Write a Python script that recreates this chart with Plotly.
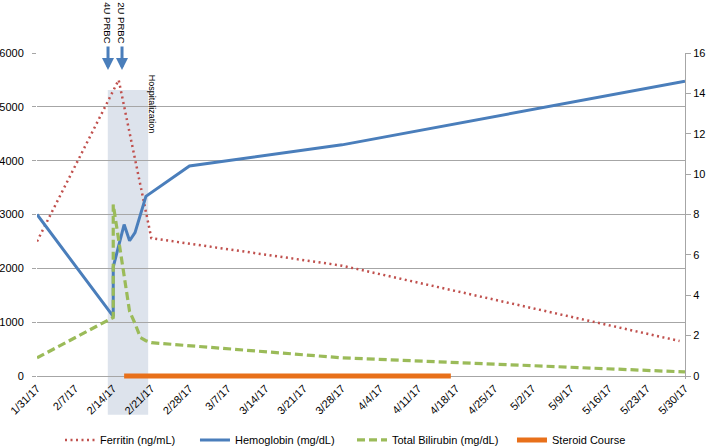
import plotly.graph_objects as go

# ---- data ----
ferritin_dates = ["2017-01-31", "2017-02-15", "2017-02-21", "2017-03-28", "2017-05-29"]
ferritin_vals = [2500, 5500, 2560, 2050, 650]

hgb_dates = ["2017-01-31", "2017-02-14", "2017-02-14", "2017-02-16", "2017-02-17",
             "2017-02-18", "2017-02-20", "2017-02-28", "2017-03-28", "2017-05-30"]
hgb_vals = [8.0, 2.95, 5.4, 7.5, 6.7, 7.1, 8.9, 10.4, 11.45, 14.6]

bili_dates = ["2017-01-31", "2017-02-14", "2017-02-14", "2017-02-17", "2017-02-18",
              "2017-02-19", "2017-02-20", "2017-02-21", "2017-03-28", "2017-05-30"]
bili_vals = [0.9, 2.9, 8.5, 3.2, 2.6, 1.9, 1.75, 1.65, 0.9, 0.2]

steroid_dates = ["2017-02-16", "2017-04-17"]
steroid_vals = [0, 0]

hosp_start = "2017-02-13"
hosp_end = "2017-02-20 10:00"

left_ticks = [0, 1000, 2000, 3000, 4000, 5000, 6000]
right_ticks = [0, 2, 4, 6, 8, 10, 12, 14, 16]

FONT = "Liberation Sans"
GRID = "#a6a6a6"

fig = go.Figure()
fig.add_trace(go.Scatter(x=ferritin_dates, y=ferritin_vals, mode="lines",
                         name="Ferritin (ng/mL)", yaxis="y", legend="legend",
                         line=dict(color="#C0504D", width=2.5, dash="2px,3.5px")))
fig.add_trace(go.Scatter(x=hgb_dates, y=hgb_vals, mode="lines",
                         name="Hemoglobin (mg/dL)", yaxis="y2", legend="legend2",
                         line=dict(color="#4A7EBB", width=3)))
fig.add_trace(go.Scatter(x=bili_dates, y=bili_vals, mode="lines",
                         name="Total Bilirubin (mg/dL)", yaxis="y2", legend="legend3",
                         line=dict(color="#9BBB59", width=3.2, dash="8px,4px")))
fig.add_trace(go.Scatter(x=steroid_dates, y=steroid_vals, mode="lines",
                         name="Steroid Course", yaxis="y2", legend="legend4",
                         line=dict(color="#E8701A", width=5)))

# hospitalization shading
fig.add_shape(type="rect", xref="x", yref="paper", x0=hosp_start, x1=hosp_end,
              y0=-0.110, y1=0.8865, fillcolor="rgb(221,227,236)", line=dict(width=0),
              layer="below")

fig.add_annotation(text="Hospitalization", xref="paper", yref="paper",
                   x=0.178, y=0.8436, textangle=90, showarrow=False,
                   xanchor="center", yanchor="middle",
                   font=dict(family=FONT, size=9, color="black"))

for xp, label in [(0.1096, "4U PRBC"), (0.1312, "2U PRBC")]:
    fig.add_annotation(text=label, xref="paper", yref="paper", x=xp, y=1.094,
                       textangle=90, showarrow=False, xanchor="center", yanchor="middle",
                       font=dict(family=FONT, size=9.5, color="black"))
    fig.add_annotation(text="", xref="paper", yref="paper", x=xp, y=0.948,
                       ax=0, ay=-25, showarrow=True, arrowhead=2, arrowsize=0.8,
                       arrowwidth=3, arrowcolor="#4A7EBB", standoff=0)


def leg(xp):
    return dict(orientation="h", x=xp, xanchor="left", y=-0.187, yanchor="middle",
                font=dict(family=FONT, size=11, color="black"),
                bgcolor="rgba(0,0,0,0)")


fig.update_layout(
    width=709, height=448,
    margin=dict(l=37, r=24, t=53, b=69, autoexpand=False),
    paper_bgcolor="white", plot_bgcolor="white",
    font=dict(family=FONT, size=11, color="black"),
    showlegend=True,
    legend=leg(0.0355), legend2=leg(0.2438), legend3=leg(0.4861), legend4=leg(0.733),
    xaxis=dict(type="date", range=["2017-01-31", "2017-05-30"], automargin=False,
               tick0="2017-01-31", dtick=7 * 86400000, tickformat="%-m/%-d/%y",
               tickangle=-45, showgrid=False, zeroline=False, showline=False,
               ticks="", tickfont=dict(family=FONT, size=11, color="black")),
    yaxis=dict(range=[-55.7, 6000], tickvals=left_ticks, showgrid=True, gridcolor=GRID,
               gridwidth=1, zeroline=False, showline=False, ticks="outside", ticklen=4,
               automargin=False, ticklabelstandoff=6,
               tickcolor=GRID, tickfont=dict(family=FONT, size=11, color="black")),
    yaxis2=dict(range=[-0.1486, 16], tickvals=right_ticks, overlaying="y", side="right",
                showgrid=False, zeroline=False, showline=True, linecolor=GRID, linewidth=1,
                ticks="outside", ticklen=5, tickcolor=GRID, automargin=False,
                tickfont=dict(family=FONT, size=11, color="black")),
)

fig.write_html("out.html", config={"displayModeBar": False},
               post_script="document.body.style.margin='0px';")
